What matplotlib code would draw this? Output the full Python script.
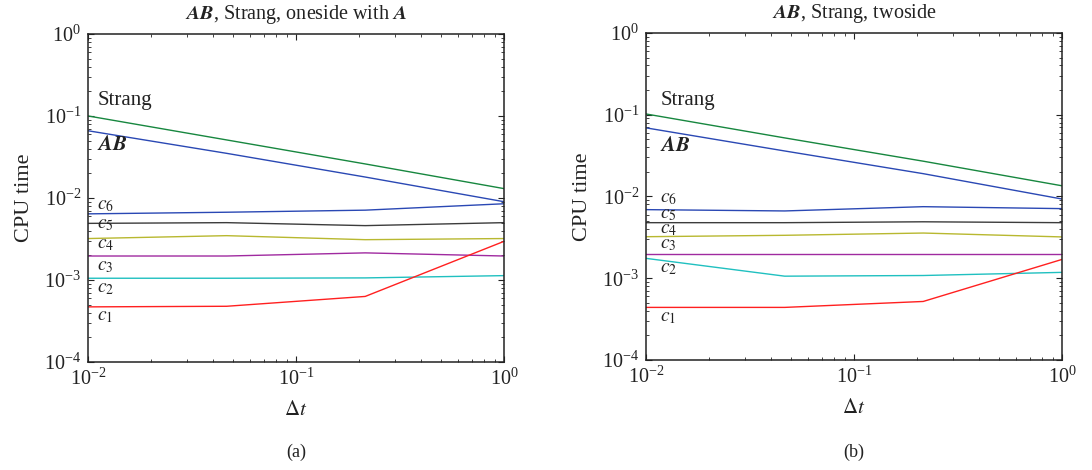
import numpy as np
import matplotlib
matplotlib.use("Agg")
import matplotlib.pyplot as plt
from matplotlib.ticker import LogLocator, NullFormatter

plt.rcParams['font.family'] = ['Liberation Serif', 'DejaVu Serif']
plt.rcParams['mathtext.fontset'] = 'stix'

dt = [0.01, 0.0464, 0.215, 1.0]

# panel (a): oneside with A
a_strang = [0.100, 0.051, 0.026, 0.0130]
a_ab     = [0.066, 0.035, 0.018, 0.0090]
a_c6     = [0.0064, 0.0067, 0.0071, 0.0085]
a_c5     = [0.0049, 0.0050, 0.0046, 0.0050]
a_c4     = [0.0032, 0.00347, 0.0031, 0.0032]
a_c3     = [0.00196, 0.00196, 0.00214, 0.00196]
a_c2     = [0.00105, 0.00105, 0.00106, 0.00113]
a_c1     = [0.00047, 0.000478, 0.00063, 0.00296]

# panel (b): twoside
b_strang = [0.102, 0.052, 0.027, 0.0135]
b_ab     = [0.069, 0.036, 0.019, 0.0093]
b_c6     = [0.0069, 0.00665, 0.0075, 0.0071]
b_c5     = [0.00478, 0.00478, 0.0049, 0.00478]
b_c4     = [0.00322, 0.00335, 0.00357, 0.0032]
b_c3     = [0.0020, 0.0020, 0.0020, 0.0020]
b_c2     = [0.00175, 0.00106, 0.00108, 0.00118]
b_c1     = [0.00044, 0.00044, 0.00052, 0.0017]

series_names = ['Strang', r'$\mathbfit{AB}$', r'$c_6$', r'$c_5$', r'$c_4$', r'$c_3$', r'$c_2$', r'$c_1$']
colors = ['#17873f', '#2a48b4', '#2a48b4', '#3c3c3c', '#b8b830', '#a02aa0', '#20c0c0', '#ff2020']
label_sizes = [15, 15, 14, 14, 14, 14, 14, 14]

panels = [
    dict(rect=[0.0806, 0.2298, 0.381, 0.698],
         title=r'$\mathbfit{AB}$, Strang, oneside with $\mathbfit{A}$',
         data=[a_strang, a_ab, a_c6, a_c5, a_c4, a_c3, a_c2, a_c1],
         labx=0.022,
         laby=[0.796, 0.659, 0.478, 0.418, 0.357, 0.290, 0.223, 0.140],
         tag='(a)'),
    dict(rect=[0.5916, 0.2340, 0.381, 0.696],
         title=r'$\mathbfit{AB}$, Strang, twoside',
         data=[b_strang, b_ab, b_c6, b_c5, b_c4, b_c3, b_c2, b_c1],
         labx=0.034,
         laby=[0.792, 0.654, 0.493, 0.446, 0.400, 0.353, 0.281, 0.131],
         tag='(b)'),
]

fig = plt.figure(figsize=(10.92, 4.70), dpi=100)

for p in panels:
    ax = fig.add_axes(p['rect'])
    for vals, c in zip(p['data'], colors):
        ax.plot(dt, vals, color=c, lw=1.0)
    ax.set_xscale('log')
    ax.set_yscale('log')
    ax.set_xlim(1e-2, 1e0)
    ax.set_ylim(1e-4, 1e0)
    ax.xaxis.set_major_locator(LogLocator(base=10, numticks=10))
    ax.yaxis.set_major_locator(LogLocator(base=10, numticks=10))
    ax.xaxis.set_minor_locator(LogLocator(base=10, subs=np.arange(2, 10), numticks=20))
    ax.yaxis.set_minor_locator(LogLocator(base=10, subs=np.arange(2, 10), numticks=20))
    ax.xaxis.set_minor_formatter(NullFormatter())
    ax.yaxis.set_minor_formatter(NullFormatter())
    ax.tick_params(which='both', direction='in', top=True, right=True, labelsize=14.5, colors='#222222')
    ax.tick_params(which='major', length=4, width=0.8, pad=5)
    ax.tick_params(which='minor', length=2, width=0.6)
    for s in ax.spines.values():
        s.set_linewidth(1.1)
        s.set_color('#222222')
    ax.set_title(p['title'], fontsize=14.5, pad=11, color='#222222')
    ax.set_xlabel(r'$\Delta t$', fontsize=15, labelpad=8, color='#222222')
    ax.set_ylabel('CPU time', fontsize=16, labelpad=7, color='#222222')
    for name, yy, fs in zip(series_names, p['laby'], label_sizes):
        ax.text(p['labx'], yy, name, transform=ax.transAxes, fontsize=fs,
                ha='left', va='center', color='#222222')
    r = p['rect']
    fig.text(r[0] + r[2] / 2, 0.038, p['tag'], ha='center', va='center', fontsize=13, color='#222222')

fig.savefig('out.png', dpi=100, facecolor='white')
